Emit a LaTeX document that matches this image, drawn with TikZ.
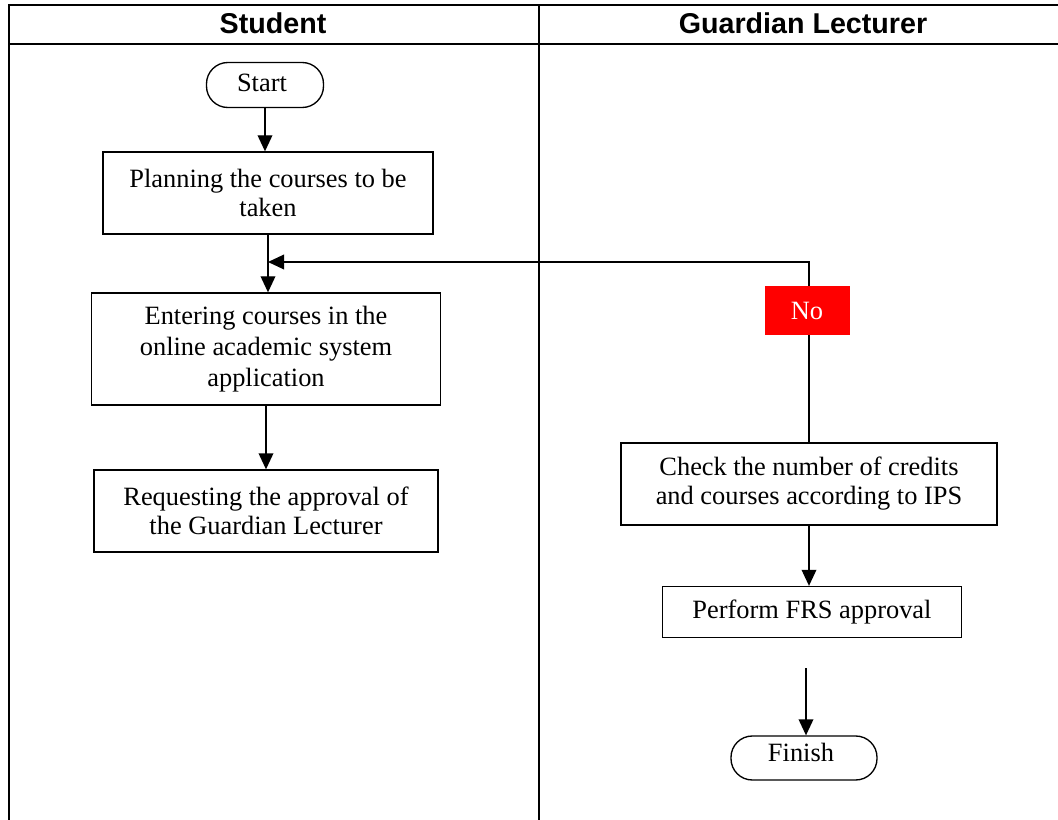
\documentclass[tikz,border=0pt]{standalone}
\usepackage{fontspec}
\setmainfont{Liberation Serif}
\newfontfamily\headfont{Liberation Sans}
\usetikzlibrary{arrows.meta}
\tikzstyle{every node}=[inner sep=0pt,align=center,font=\fontsize{19.8}{21.75}\selectfont]
\tikzstyle{head}=[font=\headfont\bfseries\fontsize{21.5}{24}\selectfont]
\tikzstyle{proc}=[draw=black,rectangle]
\tikzstyle{term}=[draw=black,rectangle,rounded corners=16pt]
\tikzstyle{flow}=[-{Triangle[width=11pt,length=12pt]}]

\begin{document}
\begin{tikzpicture}[x=0.75pt,y=-0.75pt,line width=1pt]
	\useasboundingbox (0,0) rectangle (1058,820);
	% lanes
	\draw (9,820) -- (9,5) -- (1058,5)
		(9,44) -- (1058,44)
		(539,5) -- (539,820);
	\node[head] (h1) at (273,23) {Student};
	\node[head] (h2) at (803,23) {Guardian Lecturer};

	% student
	\node[term,minimum width=87.75pt,minimum height=33.75pt] (start) at (265,85) {};
	\node (start-t) at (262,83) {Start};
	\node[proc,minimum width=247.5pt,minimum height=61.5pt] (plan) at (268,193)
		{Planning the courses to be\\taken};
	\node[proc,minimum width=261.75pt,minimum height=84pt,
		font=\fontsize{19.8}{23.25}\selectfont] (entr) at (266,349)
		{Entering courses in the\\online academic system\\application};
	\node[proc,minimum width=258pt,minimum height=61.5pt] (req) at (266,511)
		{Requesting the approval of\\the Guardian Lecturer};

	% guardian lecturer
	\node[proc,minimum width=282pt,minimum height=61.5pt] (chk) at (809,484)
		{Check the number of credits\\and courses according to IPS};
	\node[proc,minimum width=224.25pt,minimum height=38.25pt] (frs) at (812,612)
		{Perform FRS approval};
	\node[term,minimum width=109.5pt,minimum height=33pt] (fin) at (804,758) {};
	\node (fin-t) at (801,752) {Finish};
	\coordinate (mrg) at (268,262);
	\coordinate (gap) at (806,668);

	\draw[flow] (start.south) -- (start.south |- plan.north);
	\draw[flow] (plan.south) -- (plan.south |- entr.north);
	\draw[flow] (entr.south) -- (entr.south |- req.north);
	\draw[flow] (chk.north) |- (mrg);
	\draw[flow] (chk.south) -- (chk.south |- frs.north);
	\draw[flow] (gap) -- (gap |- fin.north);
	\node[fill=red,text=white,minimum width=63.75pt,minimum height=36.75pt] (no) at (807,311) {No};
\end{tikzpicture}
\end{document}
